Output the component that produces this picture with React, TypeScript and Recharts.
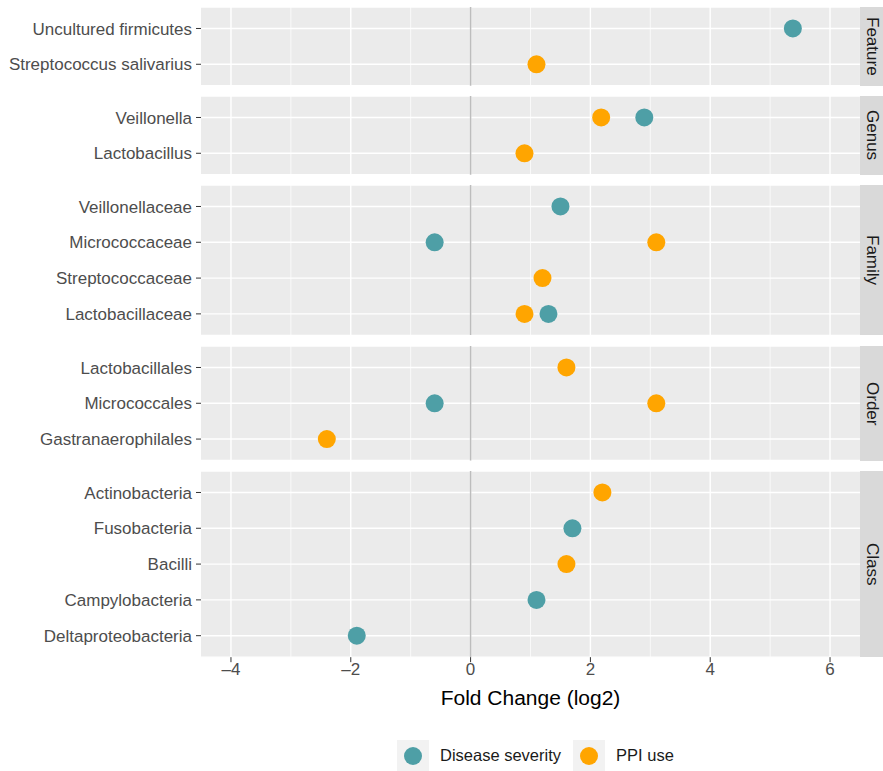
import { ScatterChart, Scatter, XAxis, YAxis, CartesianGrid, ReferenceLine } from "recharts";

const FONT = '"Liberation Sans", Arial, sans-serif';
const SEVERITY_COLOR = "#4E9FA6";
const PPI_COLOR = "#FFA500";

// rows listed top to bottom within each facet
const featureRows = ["Uncultured firmicutes", "Streptococcus salivarius"];
const featureSeverity = [5.38, null];
const featurePPI = [null, 1.1];

const genusRows = ["Veillonella", "Lactobacillus"];
const genusSeverity = [2.9, null];
const genusPPI = [2.18, 0.9];

const familyRows = ["Veillonellaceae", "Micrococcaceae", "Streptococcaceae", "Lactobacillaceae"];
const familySeverity = [1.5, -0.6, null, 1.3];
const familyPPI = [null, 3.1, 1.2, 0.9];

const orderRows = ["Lactobacillales", "Micrococcales", "Gastranaerophilales"];
const orderSeverity = [null, -0.6, null];
const orderPPI = [1.6, 3.1, -2.4];

const classRows = ["Actinobacteria", "Fusobacteria", "Bacilli", "Campylobacteria", "Deltaproteobacteria"];
const classSeverity = [null, 1.7, null, 1.1, -1.9];
const classPPI = [2.2, null, 1.6, null, null];

const xTicks = [-4, -2, 0, 2, 4, 6];
const xMinor = [-3, -1, 1, 3, 5];

const facets = [
  { label: "Feature", rows: featureRows, severity: featureSeverity, ppi: featurePPI, top: 7 },
  { label: "Genus", rows: genusRows, severity: genusSeverity, ppi: genusPPI, top: 96 },
  { label: "Family", rows: familyRows, severity: familySeverity, ppi: familyPPI, top: 185 },
  { label: "Order", rows: orderRows, severity: orderSeverity, ppi: orderPPI, top: 346 },
  { label: "Class", rows: classRows, severity: classSeverity, ppi: classPPI, top: 471 },
];

const ROW = 35.8;
const AXIS_H = 62;

const toPoints = (vals: (number | null)[]) =>
  vals.map((v, i) => ({ x: v, y: i + 1 })).filter((p) => p.x !== null);

const dot = (color: string) => (props: any) => (
  <circle cx={props.cx} cy={props.cy} r={9} fill={color} />
);

const Facet = ({ facet, last }: { facet: typeof facets[number]; last: boolean }) => {
  const n = facet.rows.length;
  const panelH = (n + 0.2) * ROW;
  const h = panelH + (last ? AXIS_H : 0);
  return (
    <div style={{ position: "absolute", left: 0, top: facet.top, width: 883, height: h }}>
      <ScatterChart width={883} height={h} margin={{ top: 0, right: 23, bottom: 0, left: 0 }}>
        <CartesianGrid fill="#EBEBEB" stroke="#FFFFFF" strokeWidth={1.4} vertical={false} />
        {xMinor.map((v) => (
          <ReferenceLine key={"m" + v} x={v} stroke="#FFFFFF" strokeWidth={0.7} />
        ))}
        {xTicks.map((v) => (
          <ReferenceLine key={"M" + v} x={v} stroke="#FFFFFF" strokeWidth={1.4} />
        ))}
        <ReferenceLine x={0} stroke="#BDBDBD" strokeWidth={1.5} />
        <XAxis
          type="number"
          dataKey="x"
          domain={[-4.5, 6.5]}
          allowDataOverflow
          ticks={xTicks}
          hide={!last}
          height={AXIS_H}
          axisLine={false}
          tickLine={{ stroke: "#333333" }}
          tickSize={5}
          tickMargin={1}
          tickFormatter={(v: number) => (v < 0 ? "\u2013" + Math.abs(v) : String(v))}
          tick={{ fill: "#4D4D4D", fontSize: 17, fontFamily: FONT }}
          label={{
            value: "Fold Change (log2)",
            position: "insideBottom",
            offset: 14,
            fill: "#000000",
            fontSize: 21,
            fontFamily: FONT,
          }}
        />
        <YAxis
          type="number"
          dataKey="y"
          domain={[0.4, n + 0.6]}
          reversed
          allowDataOverflow
          ticks={facet.rows.map((_, i) => i + 1)}
          interval={0}
          width={201}
          axisLine={false}
          tickLine={{ stroke: "#333333" }}
          tickSize={5}
          tickMargin={4}
          tickFormatter={(v: number) => facet.rows[v - 1] ?? ""}
          tick={{ fill: "#4D4D4D", fontSize: 17, fontFamily: FONT }}
        />
        <Scatter name="Disease severity" data={toPoints(facet.severity)} shape={dot(SEVERITY_COLOR)} isAnimationActive={false} />
        <Scatter name="PPI use" data={toPoints(facet.ppi)} shape={dot(PPI_COLOR)} isAnimationActive={false} />
      </ScatterChart>
      <div
        style={{
          position: "absolute",
          left: 860,
          top: 0,
          width: 23,
          height: panelH,
          background: "#D9D9D9",
          display: "flex",
          alignItems: "center",
          justifyContent: "center",
          writingMode: "vertical-rl",
          fontFamily: FONT,
          fontSize: 17,
          color: "#1A1A1A",
        }}
      >
        {facet.label}
      </div>
    </div>
  );
};

const LegendKey = ({ color, text }: { color: string; text: string }) => (
  <div style={{ display: "flex", alignItems: "center", marginRight: 12 }}>
    <div
      style={{
        width: 32,
        height: 31,
        background: "#F2F2F2",
        display: "flex",
        alignItems: "center",
        justifyContent: "center",
      }}
    >
      <div style={{ width: 18, height: 18, borderRadius: 9, background: color }} />
    </div>
    <span style={{ marginLeft: 11, fontSize: 16.5, color: "#1A1A1A" }}>{text}</span>
  </div>
);

export default function App() {
  return (
    <div style={{ position: "absolute", left: 0, top: 0, width: 883, height: 771, background: "#FFFFFF", fontFamily: FONT }}>
      {facets.map((f, i) => (
        <Facet key={f.label} facet={f} last={i === facets.length - 1} />
      ))}
      <div style={{ position: "absolute", left: 397, top: 740, display: "flex" }}>
        <LegendKey color={SEVERITY_COLOR} text="Disease severity" />
        <LegendKey color={PPI_COLOR} text="PPI use" />
      </div>
    </div>
  );
}
